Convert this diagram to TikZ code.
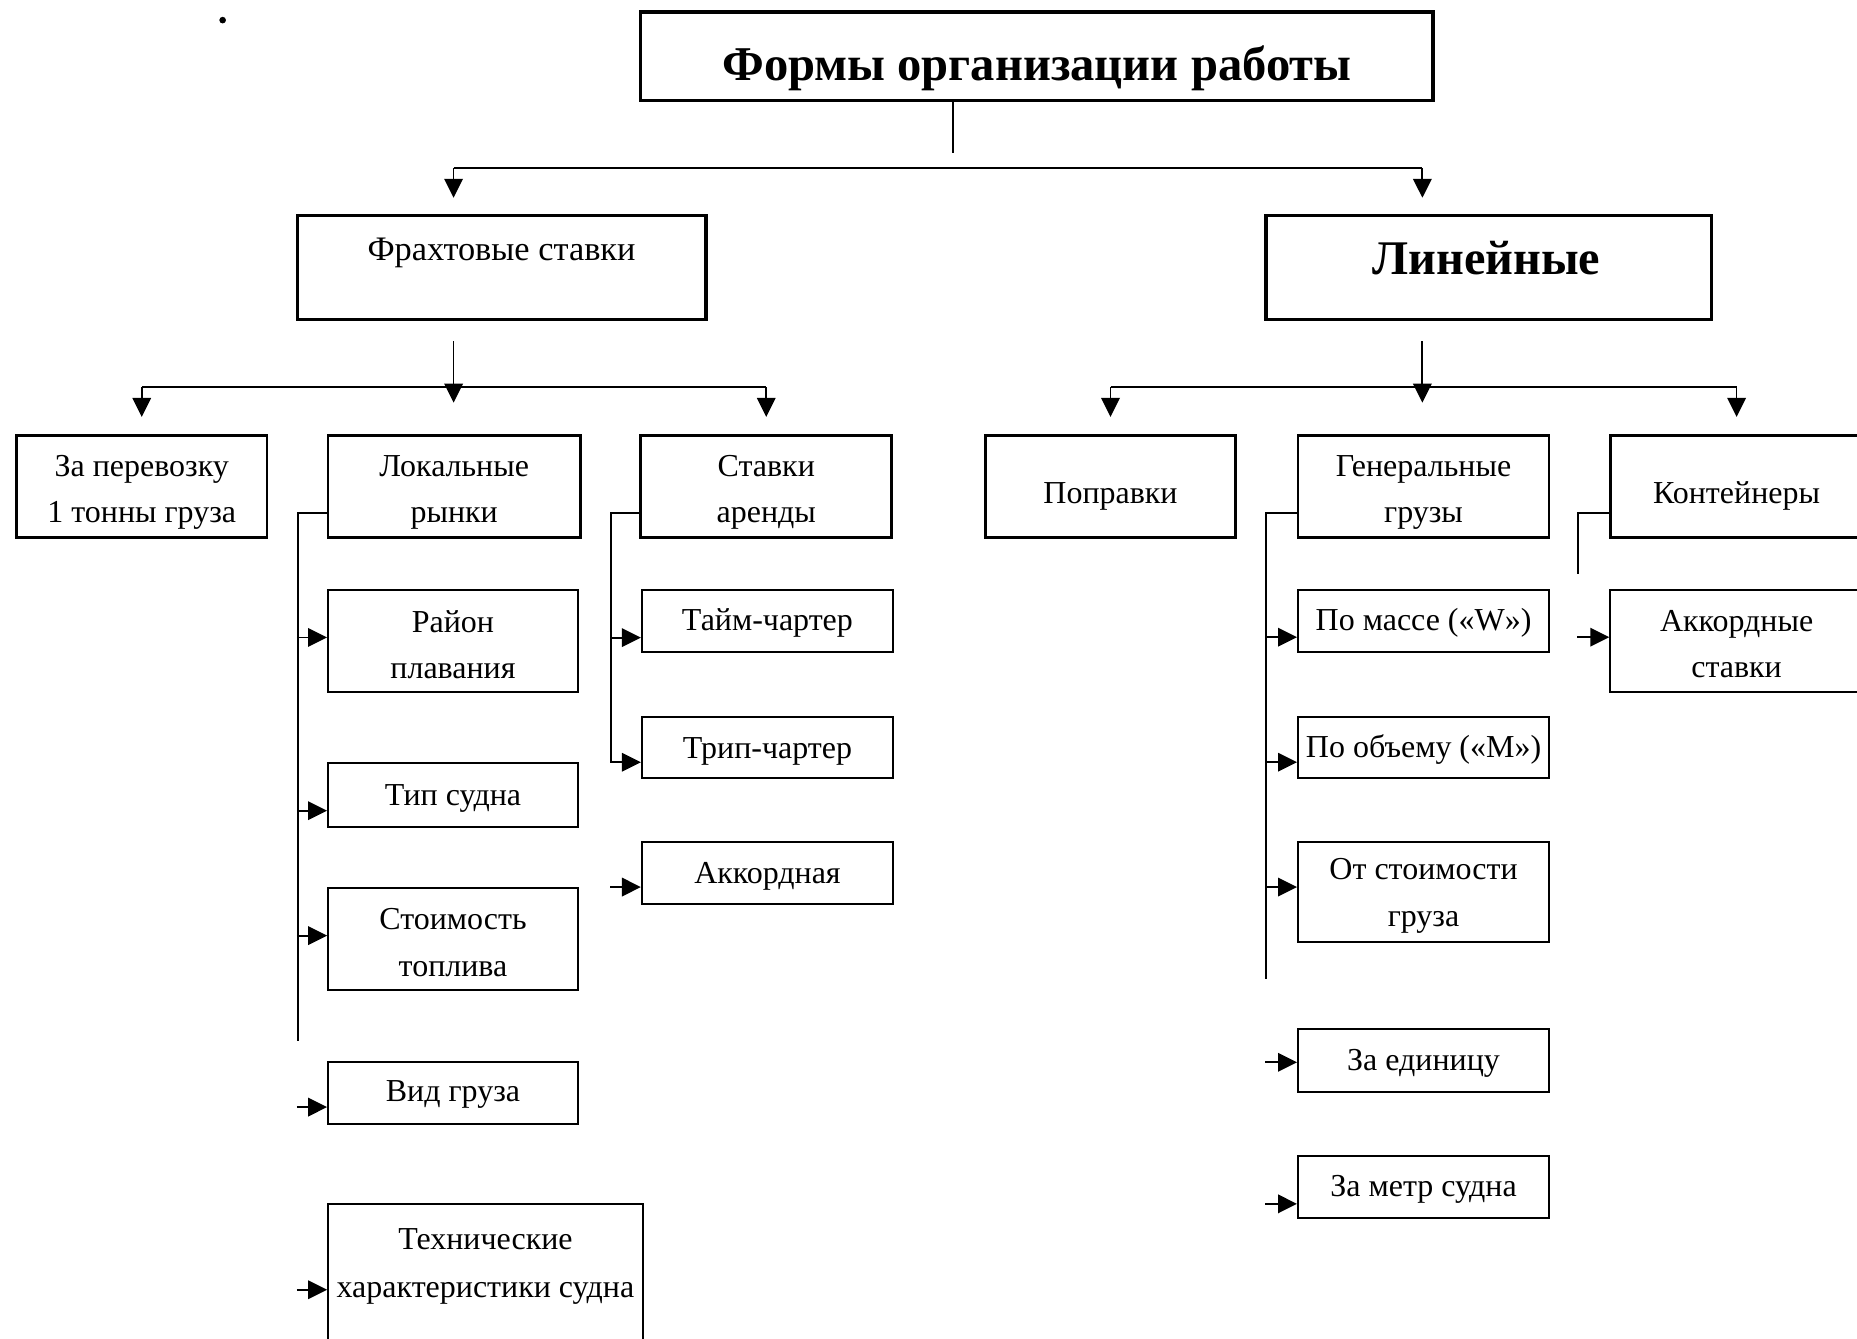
\documentclass[tikz,border=0pt]{standalone}
\usepackage{fontspec}
\setmainfont{Liberation Serif}
\usetikzlibrary{arrows.meta}
\begin{document}
\begin{tikzpicture}[x=0.5pt,y=-0.5pt,
  wh/.style 2 args={minimum width=#1*0.5pt,minimum height=#2*0.5pt},
  bigbox/.style={draw,line width=1.4pt,inner sep=0pt},
  midbox/.style={draw,line width=1.15pt,inner sep=0pt},
  subbox/.style={draw,line width=0.85pt,inner sep=0pt},
  txt/.style={font=\fontsize{13.5}{19.5}\selectfont,align=center,inner sep=0pt},
  txtb/.style={font=\fontsize{13.5}{20}\selectfont,align=center,inner sep=0pt},
  frtxt/.style={font=\fontsize{14.5}{19.5}\selectfont,inner sep=0pt},
  ttl/.style={font=\bfseries\fontsize{20.5}{24}\selectfont,inner sep=0pt},
  lintxt/.style={font=\bfseries\fontsize{20.4}{24}\selectfont,inner sep=0pt},
  ln/.style={line width=0.75pt},
  arr/.style={line width=0.75pt,-{Triangle[length=8pt,width=7.8pt]}}]
\useasboundingbox (0,0) rectangle (1568,1130);
\clip (0,0) rectangle (1568,1130);
\fill (188,17) circle (2.8);
% title
\node[bigbox,wh={669}{75}] (top) at (875.5,47.5) {};
\node[ttl,anchor=base] (topt) at ([yshift=-10.25pt]top.center) {Формы организации работы};
% level 2
\node[bigbox,wh={345}{88}] (fr) at (423.5,226) {};
\node[frtxt,anchor=base] (frt) at ([yshift=3.2pt]fr.center) {Фрахтовые ставки};
\node[bigbox,wh={376}{88}] (lin) at (1257,226) {};
\node[lintxt,anchor=base] (lint) at ([xshift=-1pt,yshift=-3pt]lin.center) {Линейные};
% level 3
\node[midbox,wh={211.4}{86}] (z1) at (119.7,411) {};
\node[txt] (z1t) at ([yshift=-2.5pt]z1.center) {За перевозку\\1 тонны груза};
\node[midbox,wh={213}{86}] (lok) at (383.5,411) {};
\node[txt] (lokt) at ([yshift=-2.5pt]lok.center) {Локальные\\рынки};
\node[midbox,wh={212}{86}] (sta) at (647,411) {};
\node[txt] (stat) at ([yshift=-2.5pt]sta.center) {Ставки\\аренды};
\node[midbox,wh={211.4}{86}] (pop) at (937.7,411) {};
\node[txt] (popt) at ([yshift=-4pt]pop.center) {Поправки};
\node[midbox,wh={212}{86}] (gen) at (1202,411) {};
\node[txt] (gent) at ([yshift=-2.5pt]gen.center) {Генеральные\\грузы};
\node[midbox,wh={213.4}{86}] (kon) at (1466.3,411) {};
\node[txt] (kont) at ([yshift=-4pt]kon.center) {Контейнеры};
% left column
\node[subbox,wh={211}{86.5}] (ray) at (382.5,541.2) {};
\node[txt] (rayt) at ([yshift=-1.6pt]ray.center) {Район\\плавания};
\node[subbox,wh={211}{54}] (tip) at (382.5,671) {};
\node[txt] (tipt) at ([yshift=-1.6pt]tip.center) {Тип судна};
\node[subbox,wh={211}{86}] (sto) at (382.5,793) {};
\node[txt] (stot) at ([yshift=-1.4pt]sto.center) {Стоимость\\топлива};
\node[subbox,wh={211}{52.5}] (vid) at (382.5,922.8) {};
\node[txt] (vidt) at ([yshift=-0.6pt]vid.center) {Вид груза};
\node[subbox,wh={265.7}{123}] (teh) at (409.9,1078.5) {};
\node[txtb] (teht) at ([yshift=4.5pt]teh.center) {Технические\\характеристики судна};
% rent column
\node[subbox,wh={212}{52.7}] (taim) at (648,524.4) {};
\node[txt] (taimt) at ([yshift=-0.9pt]taim.center) {Тайм-чартер};
\node[subbox,wh={212}{51.7}] (trip) at (648,631.2) {};
\node[txt] (tript) at ([yshift=-1.5pt]trip.center) {Трип-чартер};
\node[subbox,wh={212}{52.7}] (akk) at (648,737) {};
\node[txt] (akkt) at ([yshift=-1.4pt]akk.center) {Аккордная};
% general cargo column
\node[subbox,wh={212}{52.7}] (pom) at (1202,524.4) {};
\node[txt] (pomt) at ([yshift=-0.9pt]pom.center) {По массе («W»)};
\node[subbox,wh={212}{51.7}] (pob) at (1202,631.2) {};
\node[txt] (pobt) at ([yshift=-0.9pt]pob.center) {По объему («M»)};
\node[subbox,wh={212}{84.6}] (ots) at (1202,753.3) {};
\node[txt] (otst) at ([yshift=-1.6pt]ots.center) {От стоимости\\груза};
\node[subbox,wh={212}{53}] (zed) at (1202,895.5) {};
\node[txt] (zedt) at ([yshift=-1.1pt]zed.center) {За единицу};
\node[subbox,wh={212}{52.6}] (zmt) at (1202,1002.3) {};
\node[txt] (zmtt) at ([yshift=-0.9pt]zmt.center) {За метр судна};
% containers column
\node[subbox,wh={213.4}{86.5}] (aks) at (1466.3,541.2) {};
\node[txt] (akst) at ([yshift=-1.3pt]aks.center) {Аккордные\\ставки};
% connectors top
\coordinate (T1) at (805,129.5);
\draw[ln] (top.south -| T1) -- (T1);
\coordinate (H1) at (383,142);
\coordinate (H2) at (1201,142);
\draw[ln] (H1) -- (H2);
\draw[arr] (H1) -- ++(0,25);
\draw[arr] (H2) -- ++(0,25);
% level 3 connectors
\coordinate (F1) at (383,288);
\coordinate (L1) at (1201,288);
\coordinate (R3) at (0,327);
\draw[arr] (F1) -- ++(0,52);
\draw[arr] (L1) -- ++(0,52);
\draw[line width=1pt] (z1.north |- R3) -- (sta.north |- R3);
\draw[line width=1pt] (pop.north |- R3) -- (kon.north |- R3);
\draw[arr] (z1.north |- R3) -- ++(0,25);
\draw[arr] (sta.north |- R3) -- ++(0,25);
\draw[arr] (pop.north |- R3) -- ++(0,25);
\draw[arr] (kon.north |- R3) -- ++(0,25);
% bracket: local markets
\coordinate (V1) at (251.5,879);
\draw[ln] ([yshift=-11pt]lok.west) -| (V1);
\draw[arr] ([xshift=-12.75pt,yshift=1.5pt]ray.west) -- ([yshift=1.5pt]ray.west);
\draw[arr] ([xshift=-12.75pt,yshift=-6.75pt]tip.west) -- ([yshift=-6.75pt]tip.west);
\draw[arr] ([xshift=-12.75pt,yshift=1.5pt]sto.west) -- ([yshift=1.5pt]sto.west);
\draw[arr] ([xshift=-12.75pt,yshift=-6pt]vid.west) -- ([yshift=-6pt]vid.west);
\draw[arr] ([xshift=-12.75pt,yshift=-5.25pt]teh.west) -- ([yshift=-5.25pt]teh.west);
% bracket: rent
\coordinate (V2) at (516,643.6);
\draw[ln] ([yshift=-11pt]sta.west) -| (V2);
\draw[arr] ([xshift=-13pt,yshift=-7pt]taim.west) -- ([yshift=-7pt]taim.west);
\draw[arr] ([xshift=-13pt,yshift=-6.2pt]trip.west) -- ([yshift=-6.2pt]trip.west);
\draw[arr] ([xshift=-13pt,yshift=-6pt]akk.west) -- ([yshift=-6pt]akk.west);
% bracket: general cargo
\coordinate (V3) at (1069,827);
\draw[ln] ([yshift=-11pt]gen.west) -| (V3);
\draw[arr] ([xshift=-13.5pt,yshift=-6.8pt]pom.west) -- ([yshift=-6.8pt]pom.west);
\draw[arr] ([xshift=-13.5pt,yshift=-6.2pt]pob.west) -- ([yshift=-6.2pt]pob.west);
\draw[arr] ([xshift=-13.5pt,yshift=2.15pt]ots.west) -- ([yshift=2.15pt]ots.west);
\draw[arr] ([xshift=-13.5pt,yshift=-0.75pt]zed.west) -- ([yshift=-0.75pt]zed.west);
\draw[arr] ([xshift=-13.5pt,yshift=-7.1pt]zmt.west) -- ([yshift=-7.1pt]zmt.west);
% bracket: containers
\coordinate (V4) at (1332.5,485);
\draw[ln] ([yshift=-11pt]kon.west) -| (V4);
\draw[arr] ([xshift=-13.5pt,yshift=1.6pt]aks.west) -- ([yshift=1.6pt]aks.west);
\end{tikzpicture}
\end{document}
